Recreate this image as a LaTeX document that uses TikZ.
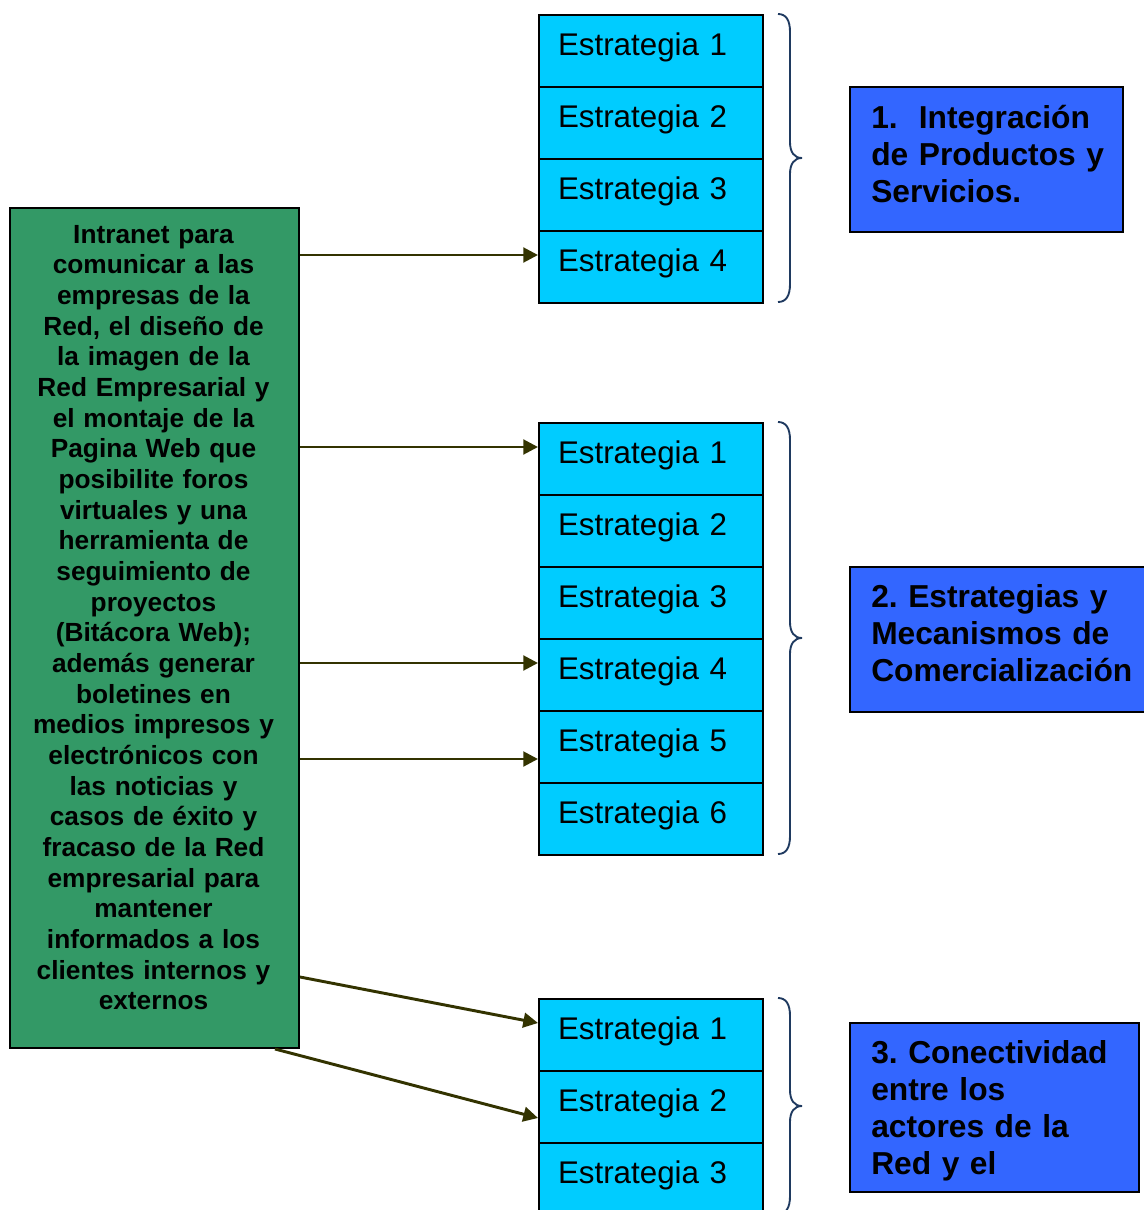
\documentclass[tikz,border=0pt]{standalone}
\usepackage{fontspec}
\setmainfont{Liberation Sans}
\usetikzlibrary{arrows.meta,calc}
\definecolor{estfill}{HTML}{00CCFF}
\definecolor{greenfill}{HTML}{339966}
\definecolor{bluefill}{HTML}{3366FF}
\definecolor{arrowcol}{HTML}{333300}
\definecolor{bracecol}{HTML}{1F3A60}
\newcommand\mybrace[3]{%
  \draw[bracestyle] (778,#1) .. controls (786,#1) and (790,{#1+6}) .. (790,{#1+18})
    -- (790,{#2-16}) .. controls (790,{#2-6}) and (794,#2) .. (802,#2)
    .. controls (794,#2) and (790,{#2+6}) .. (790,{#2+16})
    -- (790,{#3-18}) .. controls (790,{#3-6}) and (786,#3) .. (778,#3);}
\begin{document}
\frenchspacing
\begin{tikzpicture}[x=0.75pt,y=-0.75pt,
  estbox/.style={draw=black, line width=1.5pt, fill=estfill, minimum width=168pt,
    minimum height=54pt, inner xsep=14.25pt, inner ysep=0pt, text width=139.5pt,
    align=left, text height=15pt, text depth=9pt,
    font=\fontsize{23.5}{27}\selectfont, anchor=north west},
  greenbox/.style={draw=black, line width=1.5pt, fill=greenfill, anchor=north west,
    minimum width=216.75pt, minimum height=630pt, inner sep=0pt},
  greentext/.style={anchor=base, inner sep=0pt, text width=210pt, align=center,
    font=\bfseries\fontsize{19.7}{23}\selectfont},
  bluebox/.style={draw=black, line width=1.5pt, fill=bluefill, anchor=north west, inner sep=0pt},
  bluetext/.style={anchor=base west, inner sep=0pt, text width=250pt, align=left,
    font=\bfseries\fontsize{23.8}{27.75}\selectfont},
  arr/.style={draw=arrowcol, line width=2.2pt, -{Triangle[length=11pt,width=11pt]}},
  bracestyle/.style={draw=bracecol, line width=1.4pt}]
\useasboundingbox (0,0) rectangle (1144,1210);
\clip (0,0) rectangle (1144,1210);
\fill[white] (0,0) rectangle (1144,1210);

% green box
\node[greenbox] (g) at (9,207) {};
\node[greentext] (gt) at (153.5,243) {Intranet para\\comunicar a las\\empresas de la\\Red, el diseño de\\la imagen de la\\Red Empresarial y\\el montaje de la\\Pagina Web que\\posibilite foros\\virtuales y una\\herramienta de\\seguimiento de\\proyectos\\(Bitácora Web);\\además generar\\boletines en\\medios impresos y\\electrónicos con\\las noticias y\\casos de éxito y\\fracaso de la Red\\empresarial para\\mantener\\informados a los\\clientes internos y\\externos};

% strategy boxes
\foreach \i in {1,...,4} \node[estbox] (a\i) at (538,{14+72*(\i-1)}) {Estrategia \i};
\foreach \i in {1,...,6} \node[estbox] (b\i) at (538,{422+72*(\i-1)}) {Estrategia \i};
\foreach \i in {1,...,3} \node[estbox] (c\i) at (538,{998+72*(\i-1)}) {Estrategia \i};

% braces
\mybrace{14}{158}{302}
\mybrace{422}{638}{854}
\mybrace{998}{1106}{1214}

% blue boxes
\node[bluebox, minimum width=204.75pt, minimum height=108.75pt] (p1) at (849,86) {};
\node[bluetext] (p1t) at (871,128) {1.\ \ Integración\\de Productos y\\Servicios.};
\node[bluebox, minimum width=225pt, minimum height=108.75pt] (p2) at (849,566) {};
\node[bluetext] (p2t) at (871,607) {2. Estrategias y\\Mecanismos de\\Comercialización};
\node[bluebox, minimum width=216.75pt, minimum height=126.75pt] (p3) at (849,1022) {};
\node[bluetext] (p3t) at (871,1063) {3. Conectividad\\entre los\\actores de la\\Red y el};

% arrows
\coordinate (t1) at ([yshift=9pt]a4.west);
\coordinate (t2) at ([yshift=9pt]b1.west);
\coordinate (t3) at ([yshift=9pt]b4.west);
\coordinate (t4) at ([yshift=-9pt]b5.west);
\coordinate (t5) at ([yshift=9pt]c1.west);
\coordinate (t6) at ([yshift=-8.25pt]c2.west);
\coordinate (s5) at ([yshift=54pt]g.south east);
\coordinate (s6) at ([xshift=-18.75pt]g.south east);
\draw[arr] (g.east |- t1) -- (t1);
\draw[arr] (g.east |- t2) -- (t2);
\draw[arr] (g.east |- t3) -- (t3);
\draw[arr] (g.east |- t4) -- (t4);
\draw[arr] (s5) -- (t5);
\draw[arr] (s6) -- (t6);
\end{tikzpicture}
\end{document}
